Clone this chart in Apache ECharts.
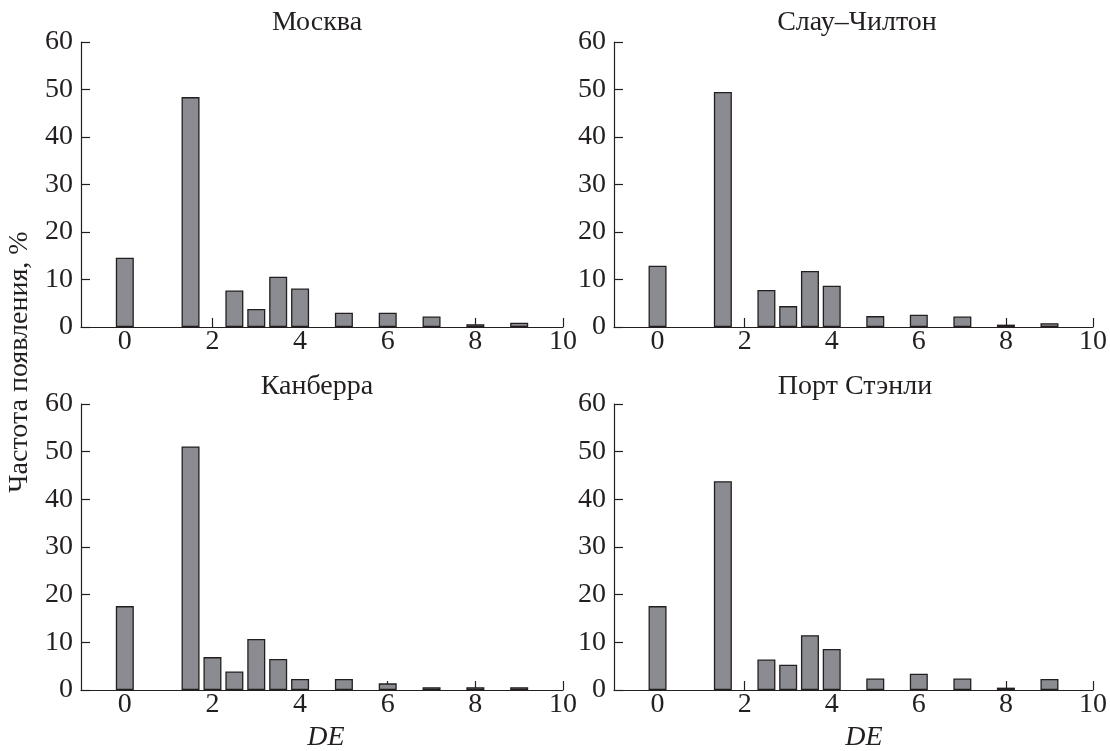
<!DOCTYPE html>
<html><head><meta charset="utf-8">
<script src="https://cdn.jsdelivr.net/npm/echarts@6/dist/echarts.min.js"></script>
<style>html,body{margin:0;padding:0;background:#fff}#c{width:1110px;height:751px}</style>
</head><body><div id="c"></div>
<script>
// ---- data ----
const titles = ['Москва', 'Слау–Чилтон', 'Канберра', 'Порт Стэнли'];
const xTickValues = [0, 2, 4, 6, 8, 10];
const yTickValues = [0, 10, 20, 30, 40, 50, 60];
const moscowX = [0, 1.5, 2.5, 3, 3.5, 4, 5, 6, 7, 8, 9];
const moscowY = [14.6, 48.4, 7.7, 3.8, 10.6, 8.1, 3.0, 3.0, 2.2, 0.6, 0.9];
const sloughX = [0, 1.5, 2.5, 3, 3.5, 4, 5, 6, 7, 8, 9];
const sloughY = [12.9, 49.5, 7.8, 4.4, 11.8, 8.7, 2.3, 2.6, 2.2, 0.5, 0.8];
const canberraX = [0, 1.5, 2, 2.5, 3, 3.5, 4, 5, 6, 7, 8, 9];
const canberraY = [17.6, 51.1, 6.9, 3.9, 10.7, 6.5, 2.3, 2.3, 1.4, 0.6, 0.6, 0.6];
const stanleyX = [0, 1.5, 2.5, 3, 3.5, 4, 5, 6, 7, 8, 9];
const stanleyY = [17.6, 43.8, 6.4, 5.3, 11.5, 8.6, 2.4, 3.4, 2.4, 0.5, 2.3];
const xName = 'DE';
const yName = 'Частота появления, %';

// ---- layout / style ----
const FONT = 'Liberation Serif';
const INK = '#231f20';
const BAR = '#8b8c91';
const FS = 28;
const grids = [
  { left: 81, top: 42, width: 482, height: 285 },
  { left: 614, top: 42, width: 491, height: 285 },
  { left: 81, top: 404, width: 482, height: 286 },
  { left: 614, top: 404, width: 491, height: 286 }
];
const panels = [[moscowX, moscowY], [sloughX, sloughY], [canberraX, canberraY], [stanleyX, stanleyY]];
const titlePos = [[317, 23], [857, 23], [317, 387], [855, 387]];

const xAxes = grids.map((g, i) => ({
  type: 'value', gridIndex: i, min: -1, max: 10,
  axisLine: { show: true, onZero: false, lineStyle: { color: INK, width: 1.2 } },
  axisTick: { show: true, inside: true, length: 9, customValues: xTickValues, lineStyle: { color: INK, width: 1.2 } },
  axisLabel: { show: true, customValues: xTickValues, margin: 1, color: INK, fontSize: FS, fontFamily: FONT },
  splitLine: { show: false }
}));
const yAxes = grids.map((g, i) => ({
  type: 'value', gridIndex: i, min: 0, max: 60, interval: 10,
  axisLine: { show: true, onZero: false, lineStyle: { color: INK, width: 1.2 } },
  axisTick: { show: true, inside: true, length: 9, lineStyle: { color: INK, width: 1.2 } },
  axisLabel: { show: true, margin: 8, color: INK, fontSize: FS, fontFamily: FONT },
  splitLine: { show: false }
}));
const series = panels.map((p, i) => ({
  type: 'bar', xAxisIndex: i, yAxisIndex: i, barWidth: 18,
  data: p[0].map((x, k) => [x, p[1][k]]),
  itemStyle: { color: BAR, borderColor: INK, borderWidth: 1.3 },
  silent: true, animation: false
}));
const graphics = titles.map((t, i) => ({
  type: 'text', x: titlePos[i][0], y: titlePos[i][1],
  style: { text: t, fill: INK, font: FS + 'px "' + FONT + '"', textAlign: 'center', textVerticalAlign: 'middle' }
}));
graphics.push({ type: 'text', x: 326, y: 738, style: { text: xName, fill: INK, font: 'italic ' + FS + 'px "' + FONT + '"', textAlign: 'center', textVerticalAlign: 'middle' } });
graphics.push({ type: 'text', x: 864, y: 738, style: { text: xName, fill: INK, font: 'italic ' + FS + 'px "' + FONT + '"', textAlign: 'center', textVerticalAlign: 'middle' } });
graphics.push({ type: 'text', x: 20, y: 362, rotation: Math.PI / 2, style: { text: yName, fill: INK, font: FS + 'px "' + FONT + '"', textAlign: 'center', textVerticalAlign: 'middle' } });

const chart = echarts.init(document.getElementById('c'), null, { renderer: 'canvas' });
chart.setOption({
  backgroundColor: '#ffffff',
  animation: false,
  grid: grids,
  xAxis: xAxes,
  yAxis: yAxes,
  series: series,
  graphic: graphics
});
</script>
</body></html>
